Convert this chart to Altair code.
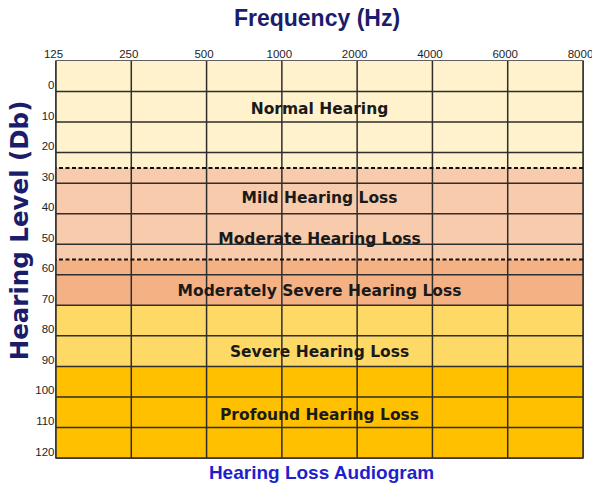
import altair as alt
import pandas as pd

# ---- data ----
freq_labels = ["125", "250", "500", "1000", "2000", "4000", "6000", "8000"]
level_ticks = [0, 10, 20, 30, 40, 50, 60, 70, 80, 90, 100, 110, 120]
level_min = -10

band_start = [-10, 25, 55, 70, 90]
band_end = [25, 55, 70, 90, 120]
band_colors = ["#FFF2CC", "#F8CBAD", "#F4B183", "#FFD966", "#FFC000"]

dashed_levels = [25, 55]

zone_names = [
    "Normal Hearing",
    "Mild Hearing Loss",
    "Moderate Hearing Loss",
    "Moderately Severe Hearing Loss",
    "Severe Hearing Loss",
    "Profound Hearing Loss",
]
zone_label_levels = [7.5, 36.5, 50, 67, 87, 107.5]

# ---- tables ----
bands = pd.DataFrame({"start": band_start, "end": band_end, "color": band_colors})
vgrid = pd.DataFrame({"i": list(range(len(freq_labels)))})
hgrid = pd.DataFrame({"lvl": level_ticks})
dashed = pd.DataFrame({"lvl": dashed_levels})
zones = pd.DataFrame({"name": zone_names, "lvl": zone_label_levels})

W, H = 527, 397
mid = (len(freq_labels) - 1) / 2

label_js = "[" + ",".join("'%s'" % s for s in freq_labels) + "][datum.value]"

x_scale = alt.Scale(domain=[0, len(freq_labels) - 1], nice=False, zero=False)
y_scale = alt.Scale(domain=[level_min, level_ticks[-1]], reverse=True, nice=False, zero=False)

LABEL_FONT = "Liberation Sans"

x_axis = alt.Axis(
    orient="top", values=list(range(len(freq_labels))), labelExpr=label_js,
    grid=False, ticks=False, domain=False, labelOverlap=False, labelFlush=False,
    labelFont=LABEL_FONT, labelFontSize=11.5,
    labelColor="#1e1e1e", labelPadding=4, labelBaseline="alphabetic", labelOffset=-3,
    title="Frequency (Hz)", titleFont="Liberation Sans", titleFontSize=23,
    titleFontWeight="bold", titleColor="#1c1c6c", titleX=260.5, titleY=-36,
    titleBaseline="alphabetic", titleAlign="center",
)
y_axis = alt.Axis(
    orient="left", values=level_ticks,
    grid=False, ticks=False, domain=False, labelOverlap=False, labelFlush=False,
    labelFont=LABEL_FONT, labelFontSize=11.5,
    labelColor="#1e1e1e", labelPadding=2, labelBaseline="alphabetic", labelOffset=-3,
    title="Hearing Level (Db)", titleFont="DejaVu Sans", titleFontSize=24.5,
    titleFontWeight="bold", titleColor="#1c1c6c", titleAngle=270,
    titleX=-29, titleY=169, titleBaseline="alphabetic", titleAlign="center",
)

band_layer = alt.Chart(bands).mark_rect().encode(
    y=alt.Y("start:Q", scale=y_scale, axis=y_axis),
    y2="end:Q",
    color=alt.Color("color:N", scale=None),
)

vgrid_layer = alt.Chart(vgrid).mark_rule(color="#2e2e2e", strokeWidth=1.5).encode(
    x=alt.X("i:Q", scale=x_scale, axis=x_axis),
)

hgrid_layer = alt.Chart(hgrid).mark_rule(color="#2e2e2e", strokeWidth=1.5).encode(
    y=alt.Y("lvl:Q", scale=y_scale, axis=y_axis),
)

dashed_layer = alt.Chart(dashed).mark_rule(
    color="#111111", strokeWidth=2, strokeDash=[4, 2.5]
).encode(
    y=alt.Y("lvl:Q", scale=y_scale, axis=y_axis),
)

text_layer = alt.Chart(zones).mark_text(
    font="DejaVu Sans", fontSize=15.5, fontWeight="bold", color="#1a1a1a",
    baseline="alphabetic", align="center",
).encode(
    x=alt.X(datum=mid, type="quantitative", scale=x_scale, axis=x_axis),
    y=alt.Y("lvl:Q", scale=y_scale, axis=y_axis),
    text="name:N",
)

chart = alt.layer(
    band_layer, vgrid_layer, hgrid_layer, dashed_layer, text_layer
).properties(
    width=W,
    height=H,
    autosize=alt.AutoSizeParams(type="none"),
    padding={"left": 48, "top": 53, "right": 9, "bottom": 28},
    background="white",
    title=alt.Title(
        "Hearing Loss Audiogram", orient="bottom", anchor="middle",
        font="Liberation Sans", fontSize=19, fontWeight="bold", color="#1f1fcc",
        baseline="alphabetic", offset=20, dx=2,
    ),
).configure_view(stroke="#2e2e2e", strokeWidth=1.5)

chart.save("out.html", embed_options={"renderer": "svg", "actions": False})
